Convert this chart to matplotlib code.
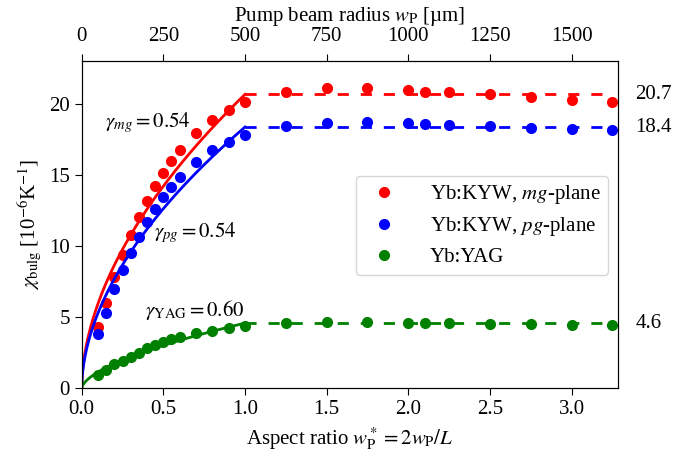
import numpy as np
import matplotlib.pyplot as plt

plt.rcParams['font.family'] = ['Liberation Serif', 'DejaVu Serif']
plt.rcParams['mathtext.fontset'] = 'stix'
plt.rcParams['font.size'] = 15

# aspect ratio w_P* sampled in the measurements
x_data = [0.1, 0.15, 0.2, 0.25, 0.3, 0.35, 0.4, 0.45, 0.5, 0.55, 0.6, 0.7, 0.8, 0.9, 1.0,
          1.25, 1.5, 1.75, 2.0, 2.1, 2.25, 2.5, 2.75, 3.0, 3.25]

kyw_mg = [4.34, 6.03, 7.86, 9.39, 10.8, 12.08, 13.21, 14.25, 15.14, 16.03, 16.78, 18.0, 18.89, 19.6, 20.16,
          20.89, 21.13, 21.13, 21.01, 20.89, 20.85, 20.7, 20.49, 20.3, 20.16]
kyw_pg = [3.82, 5.28, 6.97, 8.33, 9.55, 10.68, 11.69, 12.61, 13.45, 14.2, 14.9, 15.92, 16.78, 17.37, 17.84,
          18.47, 18.7, 18.75, 18.66, 18.59, 18.52, 18.47, 18.35, 18.26, 18.19]
yag = [0.94, 1.29, 1.71, 1.92, 2.23, 2.51, 2.82, 3.05, 3.28, 3.45, 3.59, 3.87, 4.06, 4.23, 4.39,
       4.58, 4.69, 4.69, 4.62, 4.58, 4.58, 4.53, 4.51, 4.46, 4.46]

# fit: chi = chi_sat * x**gamma below x=1, saturated above
chi_sat = [20.7, 18.4, 4.6]
gammas = [0.54, 0.54, 0.60]
colors = ['red', 'blue', 'green']
labels = ['Yb:KYW, $mg$-plane', 'Yb:KYW, $pg$-plane', 'Yb:YAG']
series = [kyw_mg, kyw_pg, yag]

fig = plt.figure(figsize=(6.75, 4.57), dpi=100)
ax = fig.add_axes([0.121, 0.150, 0.795, 0.7165])

xf = np.linspace(0, 1, 300)
for ys, sat, g, c, lab in zip(series, chi_sat, gammas, colors, labels):
    ax.plot(x_data, ys, 'o', color=c, ms=7, label=lab)
    ax.plot(xf, sat * xf ** g, '-', color=c, lw=2)
    ax.plot([1.0, 3.25], [sat, sat], '--', color=c, lw=2, dashes=(4, 4.3))
    ax.text(3.39, sat, f'{sat:.1f}', va='center', ha='left', clip_on=False)

ax.text(0.14, 18.7, r'$\gamma_{mg} = 0.54$', va='center')
ax.text(0.44, 11.0, r'$\gamma_{pg} = 0.54$', va='center')
ax.text(0.39, 5.5, r'$\gamma_{\mathrm{YAG}} = 0.60$', va='center')

ax.set_xlim(0, 3.286)
ax.set_ylim(0, 23.05)
ax.set_xticks([0.0, 0.5, 1.0, 1.5, 2.0, 2.5, 3.0])
ax.set_yticks([0, 5, 10, 15, 20])
ax.tick_params(length=5)
ax.set_xlabel(r'Aspect ratio $w_\mathrm{P}^* = 2w_\mathrm{P}/L$', labelpad=4)
ax.set_ylabel(r'$\chi_\mathrm{bulg}$ [10$^{-6}$K$^{-1}$]')

top = ax.twiny()
top.set_xlim(0, 3.286 * 500)
top.set_xticks([0, 250, 500, 750, 1000, 1250, 1500])
top.tick_params(length=5, pad=6)
top.set_xlabel(r'Pump beam radius $w_\mathrm{P}$ [µm]', labelpad=4)

ax.legend(loc='center right', bbox_to_anchor=(0.981, 0.499), borderaxespad=0,
          handletextpad=1.2, borderpad=0.35, labelspacing=0.45, fontsize=15)

fig.savefig('out.png', dpi=100)
